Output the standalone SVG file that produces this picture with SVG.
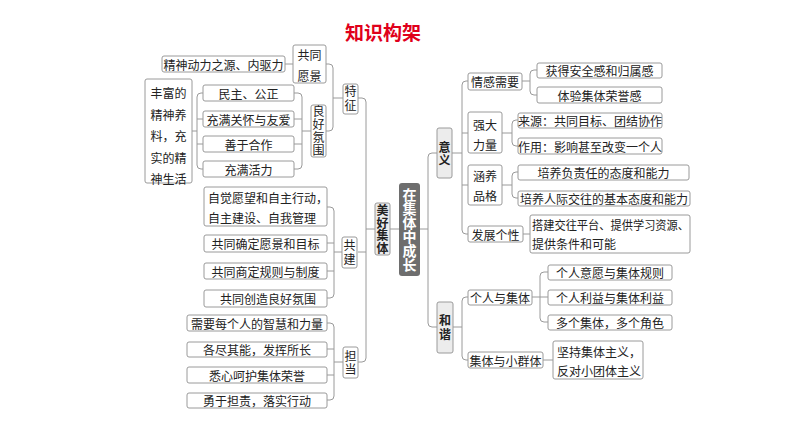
<svg xmlns="http://www.w3.org/2000/svg" width="794" height="447" viewBox="0 0 794 447">
<style>
.b{fill:#fff;stroke:#9a9a9a;stroke-width:1}
.g{fill:#ececec;stroke:#9a9a9a;stroke-width:1}
.t{font-family:"Noto Sans CJK SC","Noto Sans",sans-serif;font-size:12px;fill:#222;text-anchor:middle;dominant-baseline:central}
.l{text-anchor:start}
.bd{font-weight:bold}
.v{writing-mode:vertical-rl}
.c{fill:none;stroke:#9a9a9a;stroke-width:1}
</style>
<rect width="794" height="447" fill="#fff"/>
<text x="383" y="31" style="font-family:'Noto Sans CJK SC',sans-serif;font-size:19px;font-weight:bold;fill:#e0001b;text-anchor:middle;dominant-baseline:central">知识构架</text>

<g id="connectors" class="c">
<path d="M285,64 H293"/>
<path d="M326,64 H329 Q333,64 333,68 V127 Q333,131 329,131 H326 M333,98 H343"/>
<path d="M294,93 H298 Q302,93 302,97 V165 Q302,169 298,169 H294 M294,119 H302 M294,144 H302 M302,131 H311"/>
<path d="M203,93 H201 Q197,93 197,97 V165 Q197,169 201,169 H203 M197,119 H203 M197,144 H203 M192,131 H197"/>
<path d="M358,98 H362 Q366,98 366,102 V358 Q366,362 362,362 H358 M358,252 H366 M366,229 H375"/>
<path d="M327,207 H330 Q334,207 334,211 V294 Q334,298 330,298 H327 M327,243 H334 M327,271 H334 M334,252 H342"/>
<path d="M327,323 H330 Q334,323 334,327 V396 Q334,400 330,400 H327 M327,349 H334 M327,375 H334 M334,362 H343"/>
<path d="M390,229 H399 M420,229 H428"/>
<path d="M437,153 H432 Q428,153 428,157 V323 Q428,327 432,327 H437"/>
<path d="M468,81 H466 Q462,81 462,85 V230 Q462,234 466,234 H468 M462,133 H468 M462,185 H468 M452,153 H462"/>
<path d="M537,70 H534 Q530,70 530,74 V91 Q530,95 534,95 H537 M522,81 H530"/>
<path d="M518,120 H516 Q512,120 512,124 V142 Q512,146 516,146 H518 M502,133 H512"/>
<path d="M518,172 H516 Q512,172 512,176 V194 Q512,198 516,198 H518 M502,185 H512"/>
<path d="M523,234 H530"/>
<path d="M468,297 H466 Q462,297 462,301 V356 Q462,360 466,360 H468 M453,327 H462"/>
<path d="M548,272 H544 Q540,272 540,276 V318 Q540,322 544,322 H548 M532,297 H548"/>
<path d="M543,360 H553"/>
</g>

<g id="n-jingshen"><rect class="b" x="162" y="56" width="123" height="16" rx="2"/><text class="t" x="223.5" y="64">精神动力之源、内驱力</text></g>
<g id="n-gongtongyuanjing"><rect class="b" x="293" y="45" width="33" height="38" rx="2"/><text class="t" x="309.5" y="54">共同</text><text class="t" x="309.5" y="75">愿景</text></g>
<g id="n-tezheng"><rect class="b" x="343" y="84" width="15" height="30" rx="2"/><text class="t v" x="350.5" y="99" letter-spacing="2">特征</text></g>
<g id="n-lianghao"><rect class="b" x="311" y="105" width="15" height="52" rx="2"/><text class="t v" x="318.5" y="131.5" letter-spacing="1">良好氛围</text></g>
<g id="n-fengfu"><rect class="b" x="145" y="79" width="47" height="104" rx="2"/><text class="t"><tspan x="168.5" y="92">丰富的</tspan><tspan x="168.5" y="113.5">精神养</tspan><tspan x="168.5" y="135">料，充</tspan><tspan x="168.5" y="156.5">实的精</tspan><tspan x="168.5" y="178">神生活</tspan></text></g>
<g id="n-minzhu"><rect class="b" x="203" y="85" width="91" height="16" rx="2"/><text class="t" x="248.5" y="93">民主、公正</text></g>
<g id="n-guanhuai"><rect class="b" x="203" y="111" width="91" height="16" rx="2"/><text class="t" x="248.5" y="119">充满关怀与友爱</text></g>
<g id="n-hezuo"><rect class="b" x="203" y="136" width="91" height="16" rx="2"/><text class="t" x="248.5" y="144">善于合作</text></g>
<g id="n-huoli"><rect class="b" x="203" y="161" width="91" height="16" rx="2"/><text class="t" x="248.5" y="169">充满活力</text></g>

<g id="n-zijue"><rect class="b" x="204" y="187" width="123" height="39" rx="2"/><text class="t l" x="208" y="197">自觉愿望和自主行动，</text><text class="t l" x="208" y="217">自主建设、自我管理</text></g>
<g id="n-mubiao"><rect class="b" x="204" y="235" width="123" height="17" rx="2"/><text class="t" x="265.5" y="243.5">共同确定愿景和目标</text></g>
<g id="n-guize"><rect class="b" x="204" y="263" width="123" height="16" rx="2"/><text class="t" x="265.5" y="271">共同商定规则与制度</text></g>
<g id="n-fenwei"><rect class="b" x="204" y="290" width="123" height="17" rx="2"/><text class="t" x="268" y="298.5">共同创造良好氛围</text></g>
<g id="n-gongjian"><rect class="b" x="342" y="237" width="15" height="31" rx="2"/><text class="t v" x="349.5" y="253" letter-spacing="2">共建</text></g>

<g id="n-zhihui"><rect class="b" x="187" y="315" width="140" height="16" rx="2"/><text class="t" x="257" y="323">需要每个人的智慧和力量</text></g>
<g id="n-jinneng"><rect class="b" x="187" y="342" width="140" height="15" rx="2"/><text class="t" x="257" y="349.5">各尽其能，发挥所长</text></g>
<g id="n-rongyu"><rect class="b" x="187" y="367" width="140" height="16" rx="2"/><text class="t" x="257" y="375">悉心呵护集体荣誉</text></g>
<g id="n-danze"><rect class="b" x="187" y="393" width="140" height="15" rx="2"/><text class="t" x="257" y="400.5">勇于担责，落实行动</text></g>
<g id="n-dandang"><rect class="b" x="343" y="347" width="15" height="31" rx="2"/><text class="t v" x="350.5" y="363" letter-spacing="1">担当</text></g>

<g id="n-meihao"><rect class="g" x="375" y="203" width="15" height="52" rx="2"/><text class="t bd v" x="382.5" y="229.5" letter-spacing="0.5">美好集体</text></g>
<g id="n-root"><rect x="399" y="183" width="21" height="93" rx="3" fill="#6e6e6e"/><text class="t bd v" x="409.5" y="230" style="font-size:14px;fill:#fff">在集体中成长</text></g>

<g id="n-yiyi"><rect class="g" x="437" y="128" width="15" height="50" rx="2"/><text class="t bd v" x="444.5" y="154" letter-spacing="1">意义</text></g>
<g id="n-qinggan"><rect class="b" x="468" y="73" width="54" height="17" rx="2"/><text class="t" x="495" y="81.5">情感需要</text></g>
<g id="n-qiangda"><rect class="b" x="468" y="112" width="34" height="41" rx="2"/><text class="t" x="485" y="124">强大</text><text class="t" x="485" y="144">力量</text></g>
<g id="n-hanyang"><rect class="b" x="468" y="165" width="34" height="40" rx="2"/><text class="t" x="485" y="175">涵养</text><text class="t" x="485" y="195">品格</text></g>
<g id="n-fazhan"><rect class="b" x="468" y="226" width="55" height="16" rx="2"/><text class="t" x="495.5" y="234">发展个性</text></g>
<g id="n-anquan"><rect class="b" x="537" y="63" width="125" height="15" rx="2"/><text class="t" x="599.5" y="70.5">获得安全感和归属感</text></g>
<g id="n-tiyan"><rect class="b" x="537" y="87" width="125" height="16" rx="2"/><text class="t" x="599.5" y="95">体验集体荣誉感</text></g>
<g id="n-laiyuan"><rect class="b" x="518" y="113" width="144" height="15" rx="2"/><text class="t" x="590" y="120.5">来源：共同目标、团结协作</text></g>
<g id="n-zuoyong"><rect class="b" x="518" y="138" width="144" height="16" rx="2"/><text class="t" x="590" y="146">作用：影响甚至改变一个人</text></g>
<g id="n-fuze"><rect class="b" x="518" y="165" width="171" height="15" rx="2"/><text class="t" x="603.5" y="172.5">培养负责任的态度和能力</text></g>
<g id="n-renji"><rect class="b" x="518" y="191" width="172" height="15" rx="2"/><text class="t" x="604" y="198.5">培养人际交往的基本态度和能力</text></g>
<g id="n-dajian"><rect class="b" x="530" y="215" width="160" height="38" rx="2"/><text class="t l" x="532" y="224" textLength="157" lengthAdjust="spacingAndGlyphs">搭建交往平台、提供学习资源、</text><text class="t l" x="532" y="243">提供条件和可能</text></g>

<g id="n-hexie"><rect class="g" x="437" y="302" width="16" height="51" rx="2"/><text class="t bd v" x="445" y="328" letter-spacing="2">和谐</text></g>
<g id="n-gerenjiti"><rect class="b" x="468" y="290" width="64" height="15" rx="2"/><text class="t" x="500" y="297.5">个人与集体</text></g>
<g id="n-xiaoqunti"><rect class="b" x="468" y="352" width="75" height="16" rx="2"/><text class="t" x="505.5" y="360">集体与小群体</text></g>
<g id="n-yiyuan"><rect class="b" x="548" y="265" width="124" height="15" rx="2"/><text class="t" x="610" y="272.5">个人意愿与集体规则</text></g>
<g id="n-liyi"><rect class="b" x="548" y="290" width="124" height="15" rx="2"/><text class="t" x="610" y="297.5">个人利益与集体利益</text></g>
<g id="n-juese"><rect class="b" x="548" y="315" width="124" height="15" rx="2"/><text class="t" x="610" y="322.5">多个集体，多个角色</text></g>
<g id="n-jianchi"><rect class="b" x="553" y="341" width="90" height="38" rx="2"/><text class="t l" x="557" y="351">坚持集体主义，</text><text class="t l" x="557" y="370">反对小团体主义</text></g>
</svg>
